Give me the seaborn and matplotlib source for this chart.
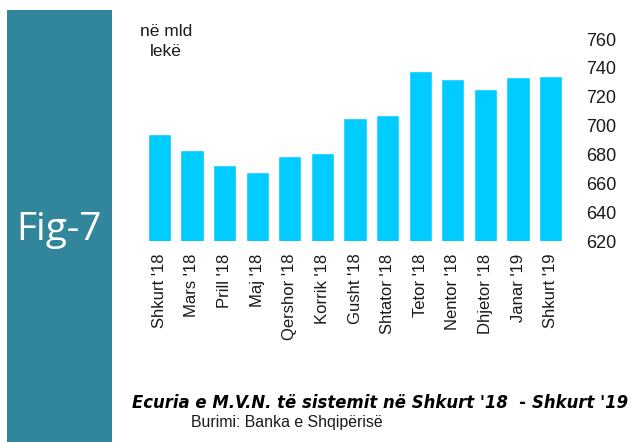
import matplotlib
matplotlib.use("Agg")
import matplotlib.pyplot as plt
import seaborn as sns
import pandas as pd
from matplotlib.patches import Rectangle

months = ["Shkurt '18", "Mars '18", "Prill '18", "Maj '18", "Qershor '18", "Korrik '18",
          "Gusht '18", "Shtator '18", "Tetor '18", "Nentor '18", "Dhjetor '18", "Janar '19",
          "Shkurt '19"]
values = [694.5, 683, 672.5, 668, 679, 681, 705, 707, 738, 732, 725.5, 734, 734.5]
yticks = [620, 640, 660, 680, 700, 720, 740, 760]

sns.set_theme(style="white")
plt.rcParams['font.family'] = ['Liberation Sans', 'DejaVu Sans']

fig = plt.figure(figsize=(6.34, 4.42), dpi=100)
ax = fig.add_axes([143/634, 1-241/442, (567-143)/634, (241-39)/442])

df = pd.DataFrame({"month": months, "value": values})
sns.barplot(data=df, x="month", y="value", color="#00CCFF", saturation=1, width=0.71, ax=ax)

ax.set_ylim(620, 760)
ax.set_xlim(-0.5, len(months) - 0.5)
ax.set_yticks(yticks)
ax.yaxis.tick_right()
ax.tick_params(axis="y", length=0, pad=14, labelsize=13, colors="#1a1a1a")
ax.tick_params(axis="x", length=0, pad=9, labelsize=12, labelrotation=90, colors="#1a1a1a")
ax.set_xlabel("")
ax.set_ylabel("")
for s in ax.spines.values():
    s.set_visible(False)

# teal side panel
fig.patches.append(Rectangle((7/634, 0), 105/634, 1 - 10/442, transform=fig.transFigure,
                             facecolor="#32869B", edgecolor="none", zorder=0))
fig.text(59/634, 1 - 230/442, "Fig-7", color="white", fontsize=28, ha="center", va="center",
         family=["Open Sans", "DejaVu Sans"])

fig.text(166/634, 1 - 32/442, "në mld", fontsize=12.5, ha="center", va="center", color="#1a1a1a")
fig.text(166/634, 1 - 52/442, "lekë", fontsize=12.5, ha="center", va="center", color="#1a1a1a")

fig.text(628/634, 1 - 403/442, "Ecuria e M.V.N. të sistemit në Shkurt '18  - Shkurt '19",
         fontsize=11.9, fontweight="bold", fontstyle="italic", ha="right", va="center", color="black",
         family=["DejaVu Sans"])
fig.text(191/634, 1 - 422/442, "Burimi: Banka e Shqipërisë", fontsize=11.4, ha="left", va="center",
         color="#1a1a1a")

fig.savefig("out.png", dpi=100)
